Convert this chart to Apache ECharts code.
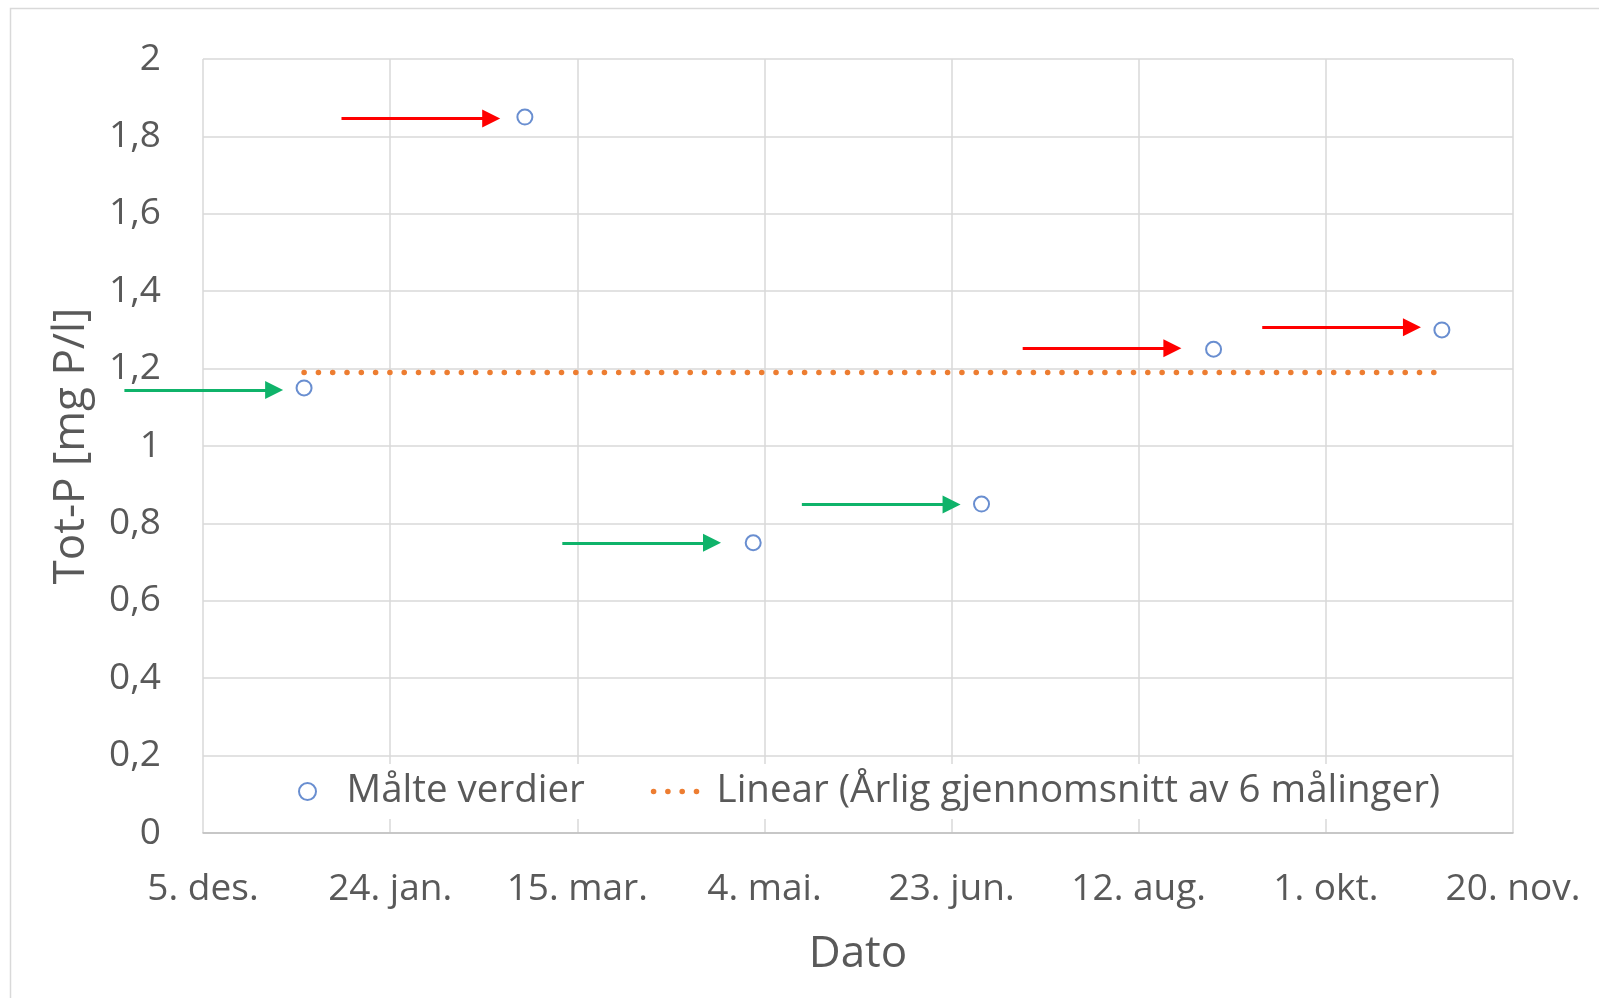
<!DOCTYPE html>
<html>
<head>
<meta charset="utf-8">
<title>Tot-P</title>
<script src="https://cdn.jsdelivr.net/npm/echarts@6/dist/echarts.min.js"></script>
<style>
    html, body { margin: 0; padding: 0; background: #fff; }
    #chart { width: 1599px; height: 998px; }
</style>
</head>
<body>
<div id="chart"></div>
<script>
// målte verdier
const measureDates = ['2023-01-01', '2023-03-01', '2023-05-01', '2023-07-01', '2023-09-01', '2023-11-01']
const measureValues = [1.15, 1.85, 0.75, 0.85, 1.25, 1.30]
// årlig gjennomsnitt (trendlinje)
const trendDates = ['2023-01-01', '2023-11-01']
const trendValues = [1.19, 1.19]
// piler: grønn = under snitt, rød = over snitt
const greenFrom = ['2022-11-14', '2023-03-11', '2023-05-14']
const greenTo = ['2022-12-24', '2023-04-20', '2023-06-23']
const greenLevel = [1.145, 0.75, 0.849]
const redFrom = ['2023-01-11', '2023-07-12', '2023-09-14']
const redTo = ['2023-02-20', '2023-08-21', '2023-10-24']
const redLevel = [1.846, 1.2525, 1.307]
// x-akse
const xStart = '2022-12-05'
const xEnd = '2023-11-20'
const monthNames = ['jan', 'feb', 'mar', 'apr', 'mai', 'jun', 'jul', 'aug', 'sep', 'okt', 'nov', 'des']

// dato -> Excel serienummer (som i originalen)
function serial(s) {
    const p = s.split('-').map(Number)
    return Date.UTC(p[0], p[1] - 1, p[2]) / 86400000 + 25569
}
function dateLabel(v) {
    const d = new Date((v - 25569) * 86400000)
    return d.getUTCDate() + '. ' + monthNames[d.getUTCMonth()] + '.'
}
function arrows(from, to, level) {
    return from.map((f, i) => ({
        coords: [[serial(f), level[i]], [serial(to[i]), level[i]]]
    }))
}

const font = "'Open Sans', 'DejaVu Sans', sans-serif"
const textColor = '#595959'
const dotted = { color: '#ED7D31', width: 5.5, type: [0.1, 14.2], cap: 'round' }

const chart = echarts.init(document.getElementById('chart'))
const option = {
    animation: false,
    graphic: [
        {
            type: 'rect',
            silent: true,
            z: -10,
            shape: { x: 10.5, y: 8.5, width: 1700, height: 1100 },
            style: { fill: 'none', stroke: '#d9d9d9', lineWidth: 1.5 }
        }
    ],
    grid: { left: 203, right: 86, top: 59, bottom: 165 },
    legend: {
        data: [
            { name: 'Målte verdier' },
            {
                name: 'Linear (Årlig gjennomsnitt av 6 målinger)',
                itemStyle: { opacity: 0 },
                lineStyle: dotted
            }
        ],
        left: 286,
        top: 764,
        padding: [8, 12],
        backgroundColor: '#fff',
        itemWidth: 48,
        itemHeight: 17,
        itemGap: 66,
        textStyle: { fontFamily: font, fontSize: 38.5, color: textColor, padding: [0, 0, 0, 10] }
    },
    xAxis: {
        type: 'value',
        min: serial(xStart),
        max: serial(xEnd),
        interval: 50,
        name: 'Dato',
        nameLocation: 'middle',
        nameGap: 99,
        nameTextStyle: { fontFamily: font, fontSize: 44, color: textColor },
        axisLine: { show: true, lineStyle: { color: '#bfbfbf', width: 1.5 } },
        axisTick: { show: false },
        axisLabel: {
            margin: 38,
            fontFamily: font,
            fontSize: 37,
            color: textColor,
            formatter: dateLabel
        },
        splitLine: { show: true, lineStyle: { color: '#d9d9d9', width: 1.5 } }
    },
    yAxis: {
        type: 'value',
        min: 0,
        max: 2,
        interval: 0.2,
        name: 'Tot-P [mg P/l]',
        nameLocation: 'middle',
        nameGap: 110,
        nameTextStyle: { fontFamily: font, fontSize: 44, color: textColor },
        axisLine: { show: false },
        axisTick: { show: false },
        axisLabel: {
            margin: 42,
            fontFamily: font,
            fontSize: 37,
            color: textColor,
            formatter: v => String(+v.toFixed(1)).replace('.', ',')
        },
        splitLine: { show: true, lineStyle: { color: '#d9d9d9', width: 1.5 } }
    },
    series: [
        {
            name: 'Linear (Årlig gjennomsnitt av 6 målinger)',
            type: 'line',
            symbol: 'none',
            color: '#ED7D31',
            lineStyle: dotted,
            data: trendDates.map((d, i) => [serial(d), trendValues[i]]),
            z: 2
        },
        {
            name: 'Målte verdier',
            type: 'scatter',
            symbol: 'circle',
            symbolSize: 15,
            itemStyle: { color: '#fff', borderColor: '#4472C4', borderWidth: 2 },
            data: measureDates.map((d, i) => [serial(d), measureValues[i]]),
            z: 3
        },
        {
            name: 'pil-grønn',
            type: 'lines',
            coordinateSystem: 'cartesian2d',
            clip: false,
            symbol: ['none', 'triangle'],
            symbolSize: 18,
            lineStyle: { color: '#0FB36A', width: 3, opacity: 1 },
            data: arrows(greenFrom, greenTo, greenLevel),
            z: 4
        },
        {
            name: 'pil-rød',
            type: 'lines',
            coordinateSystem: 'cartesian2d',
            clip: false,
            symbol: ['none', 'triangle'],
            symbolSize: 18,
            lineStyle: { color: '#FF0000', width: 3, opacity: 1 },
            data: arrows(redFrom, redTo, redLevel),
            z: 4
        }
    ]
}
chart.setOption(option)
window.addEventListener('resize', function () {
    chart.resize()
})
</script>
</body>
</html>
